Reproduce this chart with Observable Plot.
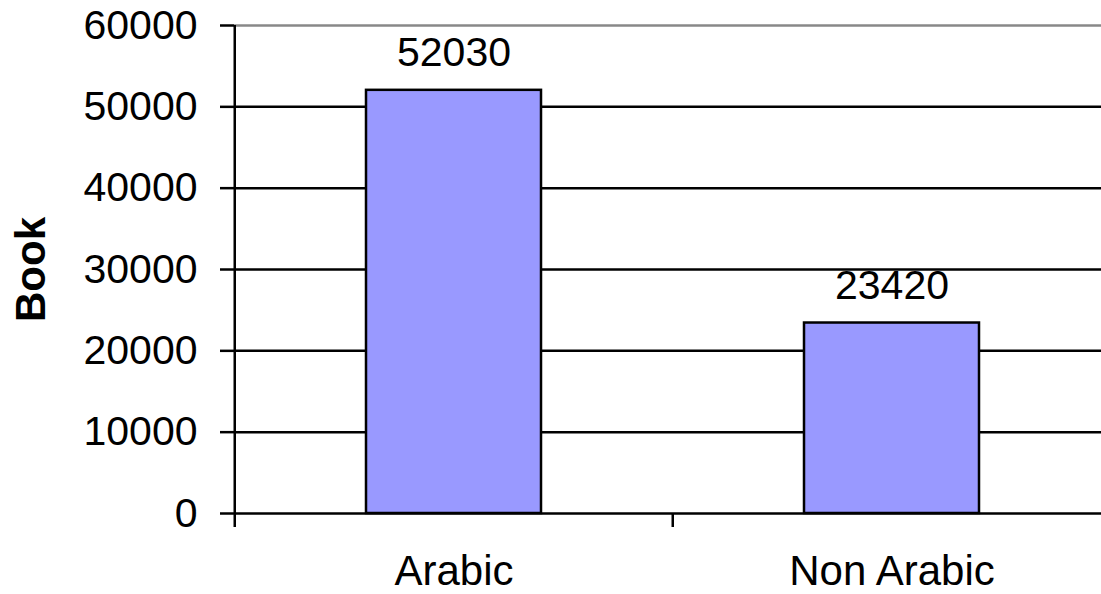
<!DOCTYPE html>
<html>
<head>
<meta charset="utf-8">
<script src="https://cdn.jsdelivr.net/npm/d3@7"></script>
<script src="https://cdn.jsdelivr.net/npm/@observablehq/plot@0.6"></script>
<style>
  html, body { margin: 0; padding: 0; background: #fff; overflow: hidden; }
  #chart { width: 1101px; height: 594px; }
</style>
</head>
<body>
<div id="chart"></div>
<script>
const categories = ["Arabic", "Non Arabic"];
const values = [52030, 23420];
const yTicks = [0, 10000, 20000, 30000, 40000, 50000, 60000];
const yLabel = "Book";

const data = categories.map((c, i) => ({category: c, value: values[i]}));
const innerGrid = yTicks.filter(t => t > 0 && t < 60000);

const W = 1101, H = 594, ML = 234, MR = -10, MT = 25, MB = 81;
const step = (W - ML - MR) / categories.length;

const chart = Plot.plot({
  width: W, height: H,
  marginLeft: ML, marginRight: MR, marginTop: MT, marginBottom: MB,
  style: {fontFamily: "'Liberation Sans', Arial, sans-serif", background: "#fff", color: "#000", overflow: "hidden"},
  x: {domain: categories, paddingInner: 0.6, paddingOuter: 0.3, align: 0.5},
  y: {domain: [0, 60000]},
  marks: [
    Plot.ruleY(innerGrid, {stroke: "#000", strokeWidth: 2.5}),
    Plot.ruleY([60000], {stroke: "#888", strokeWidth: 2.5}),
    Plot.barY(data, {x: "category", y: "value", fill: "#9999ff", stroke: "#000", strokeWidth: 2.5}),
    Plot.ruleY([0], {stroke: "#000", strokeWidth: 2.5}),
    // left axis line (at first band boundary) extending into the tick below 0
    Plot.ruleX([categories[0]], {x: d => d, dx: -step / 2, y1: 60000, y2: 0, insetBottom: -14, stroke: "#000", strokeWidth: 2.5}),
    // category boundary ticks
    Plot.ruleX(categories.slice(1), {x: d => d, dx: -step / 2, y1: 0, y2: 0, insetBottom: -14, stroke: "#000", strokeWidth: 2.5}),
    Plot.text(data, {x: "category", y: "value", text: d => String(d.value), fontSize: 41, lineAnchor: "middle", dy: -37, fill: "#000"}),
    Plot.axisY({ticks: yTicks, tickSize: 14, tickPadding: 23, fontSize: 41, tickFormat: d => String(d), label: null, stroke: "#000", strokeWidth: 2.5}),
    Plot.axisY({ticks: [], label: yLabel, labelAnchor: "center", labelArrow: "none", labelOffset: 219, fontSize: 42, fontWeight: "bold"}),
    Plot.axisX({tickSize: 0, tickPadding: 42, fontSize: 42, label: null})
  ]
});
document.getElementById("chart").appendChild(chart);
</script>
</body>
</html>
